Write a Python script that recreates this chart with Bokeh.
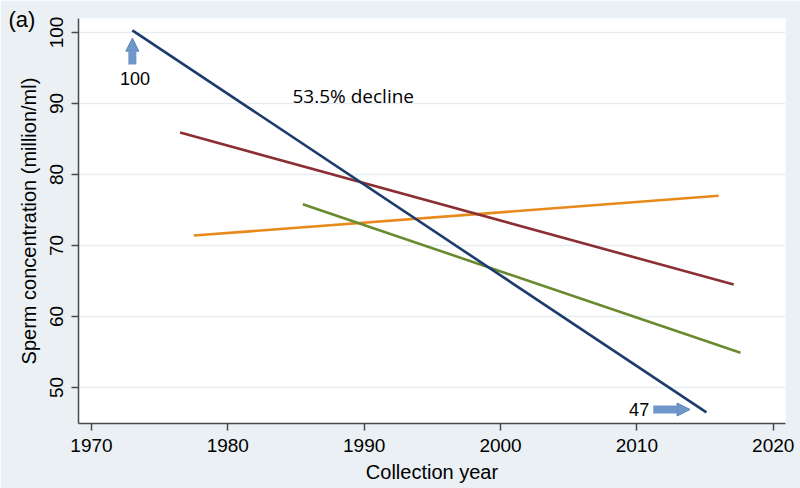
from bokeh.plotting import figure
from bokeh.models import Range1d, Label, Arrow, NormalHead, FixedTicker
from bokeh.embed import file_html
from bokeh.resources import INLINE

# Trend lines (start year, end year, start value, end value)
series_names = ["Overall", "Series B", "Series C", "Series D"]
x_start = [1973.0, 1976.5, 1977.5, 1985.5]
x_end = [2015.1, 2017.1, 2016.0, 2017.6]
y_start = [100.3, 85.9, 71.4, 75.8]
y_end = [46.5, 64.5, 77.0, 54.9]
colors = ["#1c3c6c", "#8b2f33", "#e8891c", "#6a8a30"]

x_ticks = [1970, 1980, 1990, 2000, 2010, 2020]
y_ticks = [50, 60, 70, 80, 90, 100]

BG = "#eaf0f3"
FONT = "Liberation Sans"

p = figure(width=800, height=488, output_backend="svg", toolbar_location=None,
           x_range=Range1d(1969.05, 2020.9), y_range=Range1d(44.93, 101.97),
           min_border_left=78, min_border_right=15, min_border_top=18, min_border_bottom=65,
           border_fill_color=BG, background_fill_color="white", outline_line_color=None)

p.title.text = "(a)"
p.title.align = "left"
p.title.offset = -70
p.title.standoff = -27
p.title.text_baseline = "middle"
p.title.text_font = FONT
p.title.text_font_size = "22px"
p.title.text_font_style = "normal"
p.title.text_color = "black"

# Draw order: orange, green, red, blue (blue on top)
for i in [2, 3, 1, 0]:
    p.line([x_start[i], x_end[i]], [y_start[i], y_end[i]], line_color=colors[i], line_width=2.6)

p.xaxis.ticker = FixedTicker(ticks=x_ticks)
p.yaxis.ticker = FixedTicker(ticks=y_ticks)
p.xaxis.axis_label = "Collection year"
p.yaxis.axis_label = "Sperm concentration (million/ml)"
for ax in (p.xaxis[0], p.yaxis[0]):
    ax.axis_line_color = "#4a4a4a"
    ax.axis_line_width = 1.5
    ax.major_tick_line_color = "#4a4a4a"
    ax.major_tick_line_width = 1.5
    ax.major_tick_out = 7
    ax.major_tick_in = 0
    ax.minor_tick_out = 0
    ax.minor_tick_in = 0
    ax.major_label_text_font = FONT
    ax.major_label_text_font_size = "19px"
    ax.major_label_text_color = "black"
    ax.axis_label_text_font = FONT
    ax.axis_label_text_font_size = "20px"
    ax.axis_label_text_font_style = "normal"
    ax.axis_label_text_color = "black"
p.yaxis.major_label_orientation = "vertical"
p.xaxis.major_label_standoff = 8
p.yaxis.major_label_standoff = 8
p.xaxis.axis_label_standoff = 6
p.yaxis.axis_label_standoff = 8

p.xgrid.grid_line_color = None
p.ygrid.grid_line_color = "#e6edf1"
p.ygrid.grid_line_width = 1.5

# Annotations
arrow_color = "#6f97c9"
p.add_layout(Arrow(x_start=1973.0, y_start=95.5, x_end=1973.0, y_end=99.2,
                   line_color=arrow_color, line_width=8,
                   end=NormalHead(size=13, fill_color=arrow_color, line_color="#5b82b5", line_width=1)))
p.add_layout(Arrow(x_start=2011.2, y_start=46.9, x_end=2013.9, y_end=46.9,
                   line_color=arrow_color, line_width=8,
                   end=NormalHead(size=13, fill_color=arrow_color, line_color="#5b82b5", line_width=1)))
p.add_layout(Label(x=1973.2, y=93.5, text="100", text_align="center", text_baseline="middle",
                   text_font=FONT, text_font_size="18px", text_color="black"))
p.add_layout(Label(x=2010.9, y=46.9, text="47", text_align="right", text_baseline="middle",
                   text_font=FONT, text_font_size="18px", text_color="black"))
p.add_layout(Label(x=1989.2, y=91.0, text="53.5% decline", text_align="center", text_baseline="middle",
                   text_font="Open Sans", text_font_size="19px", text_color="black"))

html = file_html(p, INLINE)
html = html.replace("<body>", '<body style="background:%s">' % BG, 1)
open("out.html", "w").write(html)
